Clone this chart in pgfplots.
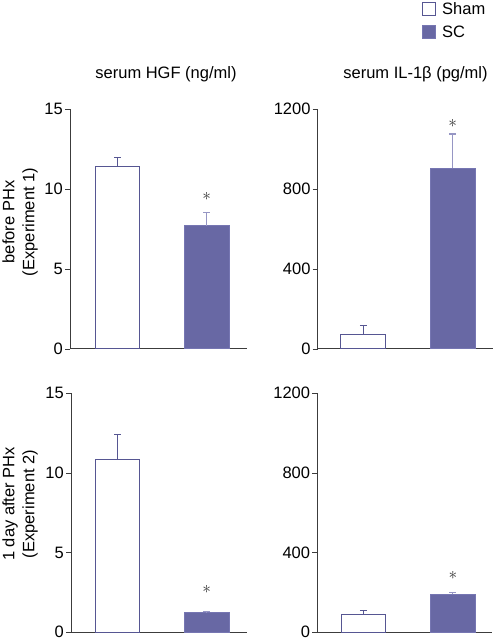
\documentclass[border=0pt]{standalone}
\usepackage{pgfplots}
\pgfplotsset{compat=1.18}
\usepackage{fontspec}
\setmainfont{Liberation Sans}
\definecolor{scfill}{RGB}{104,104,164}
\definecolor{scedge}{RGB}{118,118,178}
\definecolor{shamedge}{RGB}{86,86,146}
\definecolor{scerr}{RGB}{150,150,196}
\definecolor{axgray}{RGB}{60,60,60}
\newcommand{\lbl}{\fontsize{16.5}{20}\selectfont}
\tikzset{star/.style={font=\fontsize{16}{16}\selectfont, text=black!80, inner sep=0pt}}
\pgfplotsset{
 panel/.style={
   scale only axis, anchor=south west,
   ymin=0, axis x line*=bottom, axis y line*=left,
   axis line style={axgray, line width=1pt, -},
   xtick=\empty,
   tick align=outside, major tick length=5pt,
   ytick style={axgray, line width=0.8pt},
   tick label style={font=\lbl},
   /pgf/number format/assume math mode=true,
   /pgf/number format/1000 sep={},
   scaled y ticks=false,
   yticklabel style={inner sep=2pt},
   clip=false,
 },
 sham/.style={ybar, bar shift=0pt, bar width=0.5, fill=white, draw=shamedge, line width=1pt,
   error bars/y dir=plus, error bars/y explicit,
   error bars/error bar style={shamedge, line width=1pt},
   error bars/error mark options={rotate=90, shamedge, line width=1pt, mark size=3.5pt}},
 sc/.style={ybar, bar shift=0pt, bar width=0.5, fill=scfill, draw=scedge, line width=1pt,
   error bars/y dir=plus, error bars/y explicit,
   error bars/error bar style={scerr, line width=1.2pt},
   error bars/error mark options={rotate=90, scerr, line width=1.2pt, mark size=3.5pt}},
}
\begin{document}
\begin{tikzpicture}
\useasboundingbox (0,0) rectangle (493pt,642pt);
% column titles
\node[font=\lbl] at (166pt,568pt) {serum HGF (ng/ml)};
\node[font=\lbl] at (415.5pt,568pt) {serum IL-1β (pg/ml)};
% row labels
\node[font=\lbl, rotate=90, align=center] at (20pt,420pt) {before PHx\\(Experiment 1)};
\node[font=\lbl, rotate=90, align=center] at (20pt,138pt) {1 day after PHx\\(Experiment 2)};

% top-left
\begin{axis}[panel, at={(70pt,293pt)}, width=177pt, height=240pt,
  xmin=-0.532, xmax=1.45, ymax=15, ytick={0,5,10,15}]
\addplot[sham] coordinates {(0,11.4) +- (0,0.57)};
\addplot[sc] coordinates {(1,7.69) +- (0,0.83)};
\node[star] at (axis cs:1,9.56) {$\ast$};
\end{axis}

% top-right
\begin{axis}[panel, at={(317.7pt,293pt)}, width=175pt, height=240pt,
  xmin=-0.51, xmax=1.446, ymax=1200, ytick={0,400,800,1200},
  legend style={at={(axis description cs:0.596,1.454)}, anchor=north west,
    draw=none, fill=none, inner sep=0pt, font=\lbl, row sep=6pt,
    /tikz/every odd column/.append style={column sep=4pt}},
  legend cell align=left,
  legend image code/.code={\draw[#1,/tikz/.cd,line width=1pt] (0pt,-6.5pt) rectangle (13pt,6.5pt);}]
\addplot[sham] coordinates {(0,73.5) +- (0,42.5)};
\addplot[sc] coordinates {(1,903) +- (0,172)};
\node[star] at (axis cs:1,1130) {$\ast$};
\legend{Sham,SC}
\end{axis}

% bottom-left
\begin{axis}[panel, at={(71pt,9.7pt)}, width=176pt, height=239pt,
  xmin=-0.521, xmax=1.45, ymax=15, ytick={0,5,10,15}]
\addplot[sham] coordinates {(0,10.85) +- (0,1.56)};
\addplot[sc] coordinates {(1,1.23) +- (0,0.08)};
\node[star] at (axis cs:1,2.7) {$\ast$};
\end{axis}

% bottom-right
\begin{axis}[panel, at={(317.3pt,9.7pt)}, width=174.7pt, height=239pt,
  xmin=-0.515, xmax=1.438, ymax=1200, ytick={0,400,800,1200}]
\addplot[sham] coordinates {(0,90) +- (0,18)};
\addplot[sc] coordinates {(1,190) +- (0,10)};
\node[star] at (axis cs:1,286) {$\ast$};
\end{axis}
\end{tikzpicture}
\end{document}
